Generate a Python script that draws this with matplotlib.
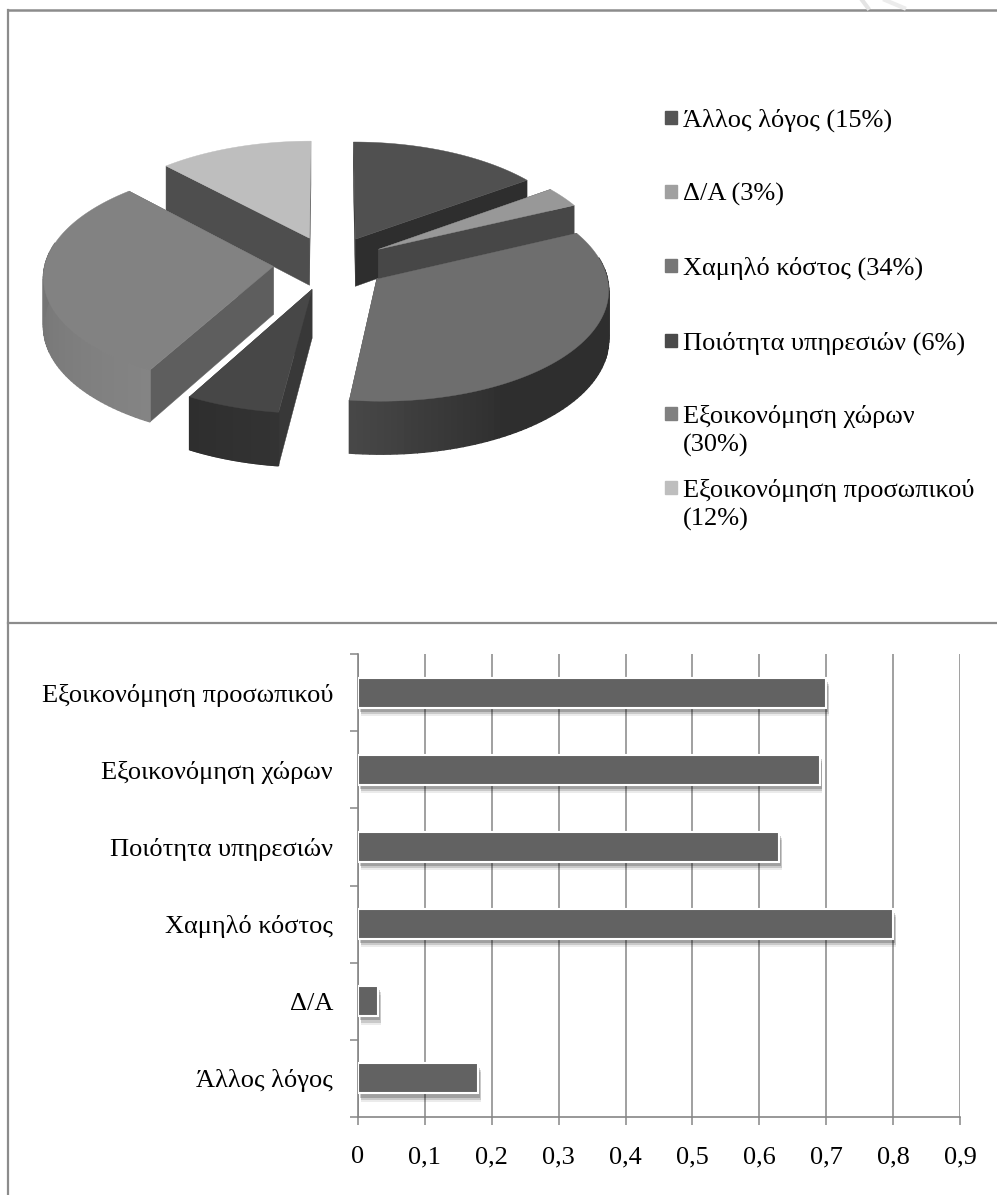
import numpy as np
import matplotlib
matplotlib.use("Agg")
import matplotlib.pyplot as plt
import matplotlib.patheffects as pe
from matplotlib.patches import Rectangle

plt.rcParams['font.family'] = ['Liberation Serif', 'DejaVu Serif']

# Dane - wykres kolowy
pie_labels = ["Άλλος λόγος", "Δ/Α", "Χαμηλό κόστος", "Ποιότητα υπηρεσιών",
              "Εξοικονόμηση χώρων", "Εξοικονόμηση προσωπικού"]
pie_values = [15, 3, 34, 6, 30, 12]
legend_colors = ["#555555", "#a0a0a0", "#777777", "#4a4a4a", "#808080", "#bebebe"]

# Dane - wykres slupkowy
bar_labels = ["Άλλος λόγος", "Δ/Α", "Χαμηλό κόστος", "Ποιότητα υπηρεσιών",
              "Εξοικονόμηση χώρων", "Εξοικονόμηση προσωπικού"]
bar_values = [0.18, 0.03, 0.8, 0.63, 0.69, 0.7]
x_ticks = [0, 0.1, 0.2, 0.3, 0.4, 0.5, 0.6, 0.7, 0.8, 0.9]

W, H = 997, 1195
X0, Y0 = 330, 263   # srodek kola w pikselach
RX, RY = 228, 109   # promienie elipsy
PERSP = 0.083       # perspektywa
EXPLODE = 0.25
DEPTH = 48

top_colors = ["#505050", "#989898", "#6e6e6e", "#474747", "#828282", "#bebebe"]
cut_start = ["#2e2e2e", "#474747", "#444444", "#383838", "#5e5e5e", "#4e4e4e"]
cut_end = ["#2e2e2e", "#474747", "#444444", "#2e2e2e", "#5e5e5e", "#4e4e4e"]
# kolor sciany na poczatku i na koncu luku
wall_begin = ["#2e2e2e", "#474747", "#2e2e2e", "#333333", "#848484", "#555555"]
wall_finish = ["#2e2e2e", "#474747", "#474747", "#2e2e2e", "#6a6a6a", "#555555"]
draw_order = [0, 5, 1, 4, 3, 2]


def project(u, v, drop=0.0):
    p = 1.0 / (1.0 + PERSP * v)
    return X0 + RX * u * p, Y0 - RY * v * p + drop * p


def draw_slice(ax, i, start, end):
    mid = (start + end) / 2
    cu, cv = EXPLODE * np.sin(mid), EXPLODE * np.cos(mid)
    th = np.linspace(start, end, 80)
    u, v = cu + np.sin(th), cv + np.cos(th)
    xt, yt = project(u, v)
    xb, yb = project(u, v, DEPTH)
    ax_, ay_ = project(cu, cv)
    bx_, by_ = project(cu, cv, DEPTH)

    # sciany radialne
    ax.fill([ax_, xt[-1], xb[-1], bx_], [ay_, yt[-1], yb[-1], by_], color=cut_end[i], lw=0.3)
    ax.fill([ax_, xt[0], xb[0], bx_], [ay_, yt[0], yb[0], by_], color=cut_start[i], lw=0.3)

    # sciana zewnetrzna z gradientem
    c1 = np.array(matplotlib.colors.to_rgb(wall_begin[i]))
    c2 = np.array(matplotlib.colors.to_rgb(wall_finish[i]))
    for k in range(len(th) - 1):
        if np.cos(th[k]) > 0.05 and abs(np.sin(th[k])) < 0.98:
            continue
        t = k / (len(th) - 2)
        if i == 2:
            t = max(0.0, (t - 0.7) / 0.3)
        col = c1 + (c2 - c1) * t
        ax.fill([xt[k], xt[k + 1], xb[k + 1], xb[k]], [yt[k], yt[k + 1], yb[k + 1], yb[k]],
                color=col, lw=1.0)

    ax.fill(np.r_[ax_, xt], np.r_[ay_, yt], color=top_colors[i], lw=0.3)


fig = plt.figure(figsize=(W / 100, H / 100), dpi=100)

# Warstwa tla w pikselach
bg = fig.add_axes([0, 0, 1, 1])
bg.set_xlim(0, W)
bg.set_ylim(H, 0)
bg.axis('off')

frame = "#8c8c8c"
bg.plot([8, W], [10, 10], color=frame, lw=1.8)
bg.plot([8, 8], [10, H], color=frame, lw=1.6)
bg.plot([8, W], [623, 623], color=frame, lw=1.6)

# slad znaku wodnego nad ramka
bg.plot([862, 868], [0, 8], color="#e4e4e4", lw=3)
bg.plot([885, 904], [0, 8], color="#ececec", lw=3)

# Kolo 3D
edges = np.cumsum([0] + pie_values) / sum(pie_values) * 2 * np.pi
for i in draw_order:
    draw_slice(bg, i, edges[i], edges[i + 1])

# Legenda
legend_y = [117.5, 191.5, 265.5, 340.5, 413, 487]
for i, y in enumerate(legend_y):
    bg.add_patch(Rectangle((664.5, y - 6.5), 12.5, 13, color=legend_colors[i]))
    text = f"{pie_labels[i]} ({pie_values[i]}%)"
    if i >= 4:
        bg.text(683, y + 9.5, pie_labels[i], fontsize=19, color="black", va='baseline')
        bg.text(683, y + 38.5, f"({pie_values[i]}%)", fontsize=19, color="black", va='baseline')
    else:
        bg.text(683, y + 9.5, text, fontsize=19, color="black", va='baseline')

# Wykres slupkowy
ax = fig.add_axes([358 / W, 1 - 1117 / H, (960 - 358) / W, (1117 - 654) / H])
ax.patch.set_alpha(0)
ypos = np.arange(len(bar_values)) + 0.5
shadow = [pe.SimplePatchShadow(offset=(2, -6), shadow_rgbFace='#000000', alpha=0.08),
          pe.SimplePatchShadow(offset=(2, -4.5), shadow_rgbFace='#000000', alpha=0.14),
          pe.SimplePatchShadow(offset=(1.5, -3.0), shadow_rgbFace='#000000', alpha=0.2),
          pe.Normal()]
ax.barh(ypos, bar_values, height=0.39, color="#626262", edgecolor="white", linewidth=1.5,
        zorder=3, path_effects=shadow)
ax.set_xlim(0, 0.9)
ax.set_ylim(0, 6)
ax.set_xticks(x_ticks)
ax.set_xticklabels(["0"] + [f"{t:.1f}".replace(".", ",") for t in x_ticks[1:]], fontsize=19, color="black")
ax.set_yticks(range(7))
ax.set_yticklabels([])
ax.set_yticks(ypos, minor=True)
ax.set_yticklabels(bar_labels, minor=True, fontsize=19, color="black")
ax.tick_params(axis='y', which='minor', length=0, pad=18)
ax.tick_params(axis='both', which='major', length=6, width=1.1, color="#868686")
ax.tick_params(axis='x', pad=15)
ax.grid(True, axis='x', color="#868686", lw=1.1, zorder=0)
ax.set_axisbelow(True)
for s in ['top', 'right']:
    ax.spines[s].set_visible(False)
for s in ['left', 'bottom']:
    ax.spines[s].set_color("#868686")
    ax.spines[s].set_linewidth(1.2)

fig.savefig("out.png", dpi=100)
